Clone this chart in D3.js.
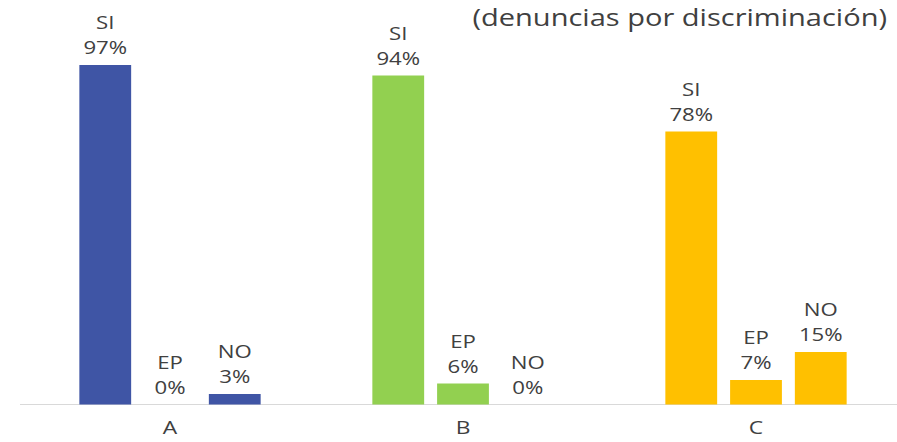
<!DOCTYPE html>
<html><head><meta charset="utf-8">
<script src="https://cdn.jsdelivr.net/npm/d3@7"></script>
<style>body{margin:0;background:#fff}</style>
</head><body>
<svg id="chart" width="897" height="442"></svg>
<script>
const categories = ["A", "B", "C"];
const seriesNames = ["SI", "EP", "NO"];
const valuesA = [97, 0, 3];
const valuesB = [94, 6, 0];
const valuesC = [78, 7, 15];
const groupColors = ["#3F55A5", "#92D050", "#FFC000"];
const title = "(denuncias por discriminación)";

const allValues = [valuesA, valuesB, valuesC];
const svg = d3.select("#chart");
const baseY = 404.5;
const y = d3.scaleLinear().domain([0, 100]).range([baseY, 54.5]);
const x0 = d3.scaleBand().domain(categories).range([23.5, 902.5]).padding(0);
const x1 = d3.scaleBand().domain(seriesNames).range([0, 181.3]).paddingInner(0.2).paddingOuter(0);
const innerOffset = (x0.bandwidth() - 181.3) / 2;

const txt = "#404040";
const font = "'Open Sans', sans-serif";

svg.append("line").attr("x1", 20).attr("x2", 897).attr("y1", baseY).attr("y2", baseY)
  .attr("stroke", "#d9d9d9").attr("stroke-width", 1);

function label(parent, x, yy, s, size, anchor, sx) {
  return parent.append("text").attr("transform", `translate(${x},${yy}) scale(${sx || 1.2},1)`)
    .attr("text-anchor", anchor || "middle").attr("fill", txt)
    .style("font-family", font).style("font-size", size + "px").text(s);
}

categories.forEach((c, gi) => {
  const g = svg.append("g").attr("transform", `translate(${x0(c) + innerOffset},0)`);
  seriesNames.forEach((s, si) => {
    const v = allValues[gi][si];
    const bx = x1(s);
    g.append("rect").attr("x", bx).attr("y", y(v)).attr("width", x1.bandwidth())
      .attr("height", baseY - y(v)).attr("fill", groupColors[gi]);
    const cx = bx + x1.bandwidth() / 2;
    label(g, cx, y(v) - 36, s, 18.5);
    label(g, cx, y(v) - 11, v + "%", 18.5);
  });
  label(svg, x0(c) + x0.bandwidth() / 2, 434, c, 19);
});

label(svg, 887, 25.5, title, 24, "end", 1.21);
</script>
</body></html>
